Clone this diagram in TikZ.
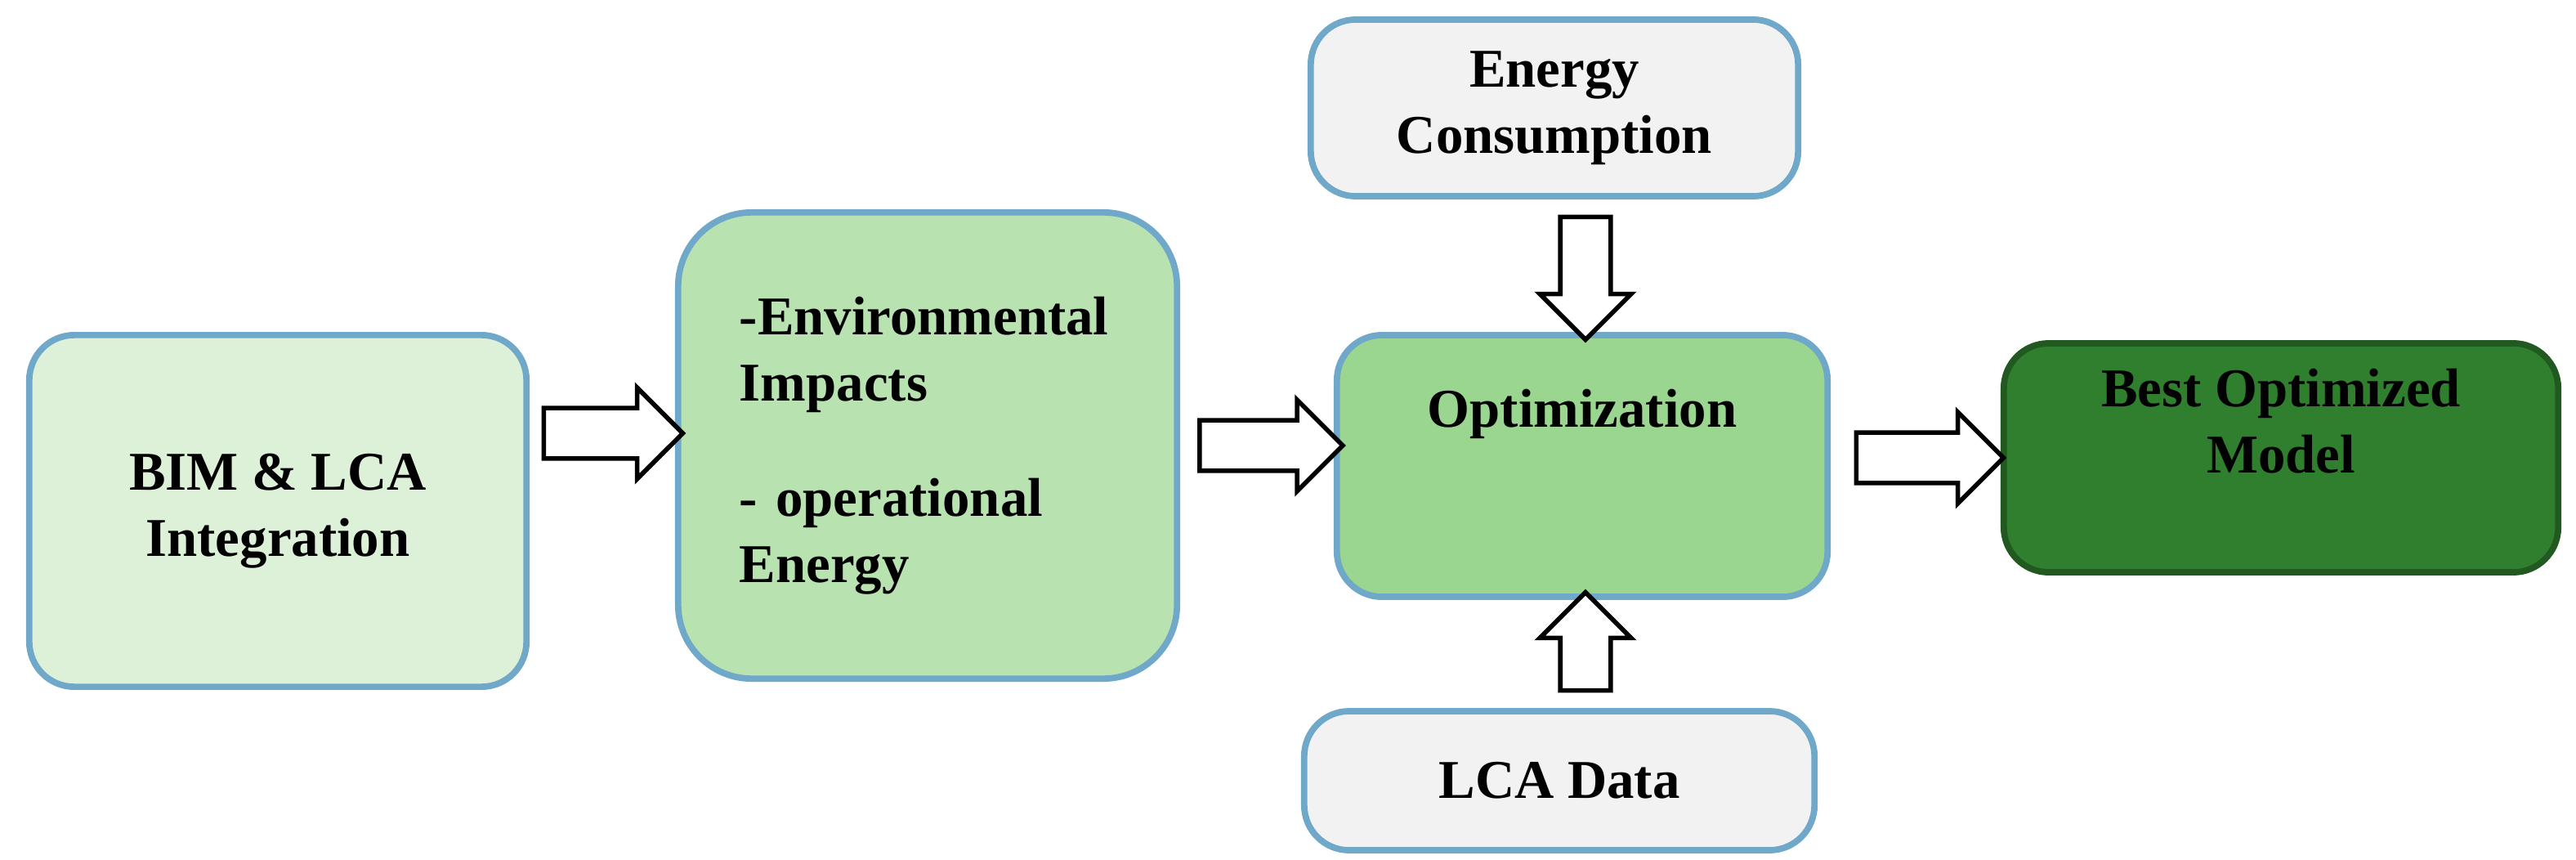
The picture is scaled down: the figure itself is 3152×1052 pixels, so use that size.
\documentclass[tikz,border=0pt]{standalone}
\usepackage{fontspec}
\setmainfont{Liberation Serif}
\usetikzlibrary{shapes.arrows}
\definecolor{bordc}{HTML}{6FA8C8}
\definecolor{fa}{HTML}{DDF0D8}
\definecolor{fb}{HTML}{B9E2B1}
\definecolor{fc}{HTML}{9AD68F}
\definecolor{fd}{HTML}{2F7F2F}
\definecolor{fg}{HTML}{F2F2F2}
\begin{document}
\begin{tikzpicture}[x=0.01cm,y=-0.01cm,
  box/.style={draw=bordc,line width=2.2pt,rounded corners=0.55cm,align=center,font=\fontsize{19}{23}\selectfont\bfseries,inner sep=0pt},
  barrow/.style={single arrow,draw=black,line width=1.6pt,fill=white,minimum height=#1,single arrow head extend=0.25cm,single arrow tip angle=90,inner xsep=0pt,inner ysep=0.28cm,text width=0.5cm}]
\useasboundingbox (0,0) rectangle (3152,1052);
\node[box,fill=fa,minimum width=6.08cm,minimum height=4.3cm] (bim) at (340,625) {BIM \& LCA\\Integration};
\node[box,fill=fb,minimum width=6.1cm,minimum height=5.7cm,rounded corners=0.9cm,align=left,text width=4.6cm] (env) at (1135,545) {-Environmental\\Impacts\\[0.6cm]- operational\\Energy};
\node[box,fill=fc,minimum width=6.0cm,minimum height=3.2cm] (opt) at (1936,570) {Optimization\\[0.6cm]};
\node[box,fill=fg,minimum width=5.96cm,minimum height=2.16cm] (en) at (1902,132) {Energy\\Consumption};
\node[box,fill=fg,minimum width=6.24cm,minimum height=1.7cm] (lca) at (1908,955) {LCA Data};
\node[box,draw=fd!70!black,fill=fd,minimum width=6.78cm,minimum height=2.8cm] (best) at (2791,560) {Best Optimized\\Model\\[0.1cm]};
\node[barrow=1.7cm] (a1) at (735,530) {};
\node[barrow=1.75cm] (a2) at (1540,545) {};
\node[barrow=1.8cm] (a3) at (2346,560) {};
\node[barrow=1.5cm,rotate=-90] (a4) at (1940,325) {};
\node[barrow=1.2cm,rotate=90] (a5) at (1940,800) {};
\end{tikzpicture}
\end{document}
